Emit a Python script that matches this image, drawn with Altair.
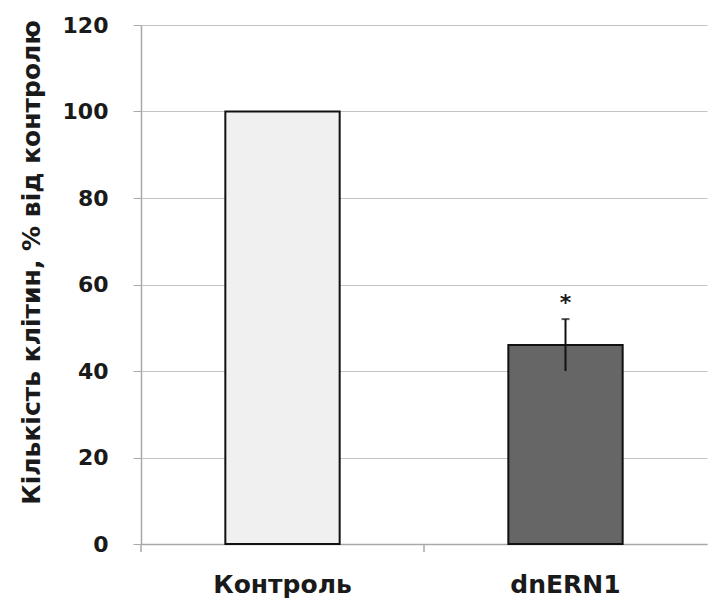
import altair as alt
import pandas as pd

categories = ["Контроль", "dnERN1"]
values = [100, 46]
errors = [0, 6]
marks = ["", "*"]
fills = ["#f0f0f0", "#666666"]
y_ticks = [0, 20, 40, 60, 80, 100, 120]

df = pd.DataFrame({
    "cat": categories,
    "val": values,
    "err": errors,
    "mark": marks,
    "fill": fills,
})
df["lo"] = df["val"] - df["err"]
df["hi"] = df["val"] + df["err"]

FONT = "DejaVu Sans"
P_IN = 0.596
P_OUT = P_IN / 2

xscale = alt.Scale(domain=categories, paddingInner=P_IN, paddingOuter=P_OUT)
tscale = alt.Scale(domain=categories, paddingInner=0, paddingOuter=0)
yscale = alt.Scale(domain=[0, 120], nice=False)

base = alt.Chart(df)

bars = base.mark_bar(stroke="#111111", strokeWidth=2).encode(
    x=alt.X("cat:N", scale=xscale, sort=categories, title=None,
            axis=alt.Axis(labelAngle=0, labelFontSize=25, labelFont=FONT,
                          labelFontWeight="bold", labelColor="#1a1a1a",
                          labelPadding=28, ticks=False, domainColor="#a8a8a8",
                          domainWidth=1.5, grid=False)),
    y=alt.Y("val:Q", scale=yscale,
            axis=alt.Axis(values=y_ticks, grid=True, gridColor="#c4c4c4", gridWidth=1.2,
                          domainColor="#a8a8a8", domainWidth=1.5, tickColor="#a8a8a8",
                          tickSize=8, labelFontSize=22, labelFont=FONT,
                          labelFontWeight="bold", labelColor="#1a1a1a", labelPadding=25,
                          title="Кількість клітин, % від контролю", titleFont=FONT,
                          titleFontSize=25, titleFontWeight="bold", titleColor="#1a1a1a",
                          titleAngle=-90, titleX=-110, titleY=237,
                          titleAlign="center", titleBaseline="middle")),
    fill=alt.Fill("fill:N", scale=None),
)

xticks = base.mark_rule(color="#a8a8a8", strokeWidth=1.5).encode(
    x=alt.X("cat:N", scale=tscale, sort=categories, bandPosition=0, axis=None),
    y=alt.value(519),
    y2=alt.value(527),
)

err_df = df[df["err"] > 0]
ebase = alt.Chart(err_df)
err_rule = ebase.mark_rule(color="#111111", strokeWidth=2).encode(
    x=alt.X("cat:N", scale=xscale, sort=categories, axis=None),
    y=alt.Y("lo:Q", scale=yscale),
    y2="hi:Q",
)
err_cap = ebase.mark_tick(color="#111111", thickness=2, size=8).encode(
    x=alt.X("cat:N", scale=xscale, sort=categories, axis=None),
    y=alt.Y("hi:Q", scale=yscale),
)
star = ebase.mark_text(font=FONT, fontSize=22, fontWeight="bold", color="#1a1a1a",
                       baseline="bottom", dy=-4).encode(
    x=alt.X("cat:N", scale=xscale, sort=categories, axis=None),
    y=alt.Y("hi:Q", scale=yscale),
    text="mark:N",
)

chart = alt.layer(bars, xticks, err_rule, err_cap, star).resolve_scale(
    x="independent"
).properties(
    width=566,
    height=519,
    background="white",
    autosize=alt.AutoSizeParams(type="none"),
    padding={"left": 141, "top": 25, "right": 1, "bottom": 59},
).configure_view(stroke=None)

chart.save("out.html", embed_options={"renderer": "svg", "actions": False})
